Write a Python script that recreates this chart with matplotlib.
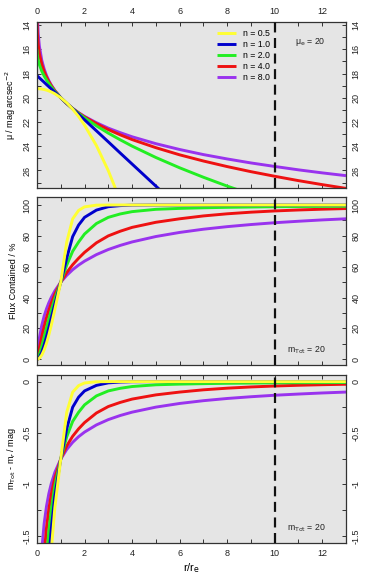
import numpy as np
import matplotlib
matplotlib.use('Agg')
import matplotlib.pyplot as plt

nan = np.nan

# radius in units of r_e
r = [0, 0.005, 0.01, 0.02, 0.05, 0.1, 0.2, 0.3, 0.4, 0.5, 0.6, 0.75, 1, 1.25, 1.5, 1.75,
     2, 2.5, 3, 3.5, 4, 5, 6, 7, 8, 9, 10, 11, 12, 13]

labels = ['n = 0.5', 'n = 1.0', 'n = 2.0', 'n = 4.0', 'n = 8.0']
colors = ['#ffff33', '#0000cc', '#22ee22', '#ee1111', '#9933ee']

# surface brightness (mag arcsec^-2)
mu_n05 = [19.25, 19.25, 19.25, 19.25, 19.25, 19.26, 19.28, 19.32, 19.37, 19.44, 19.52, 19.67, 20.00,
          20.42, 20.94, 21.55, 22.26, 23.95, 26.02, 28.47] + [nan] * 10
mu_n1 = [18.18, 18.19, 18.20, 18.21, 18.27, 18.36, 18.54, 18.72, 18.91, 19.09, 19.27, 19.54, 20.00,
         20.46, 20.91, 21.37, 21.82, 22.73, 23.64, 24.56, 25.47, 27.29, 29.11] + [nan] * 7
mu_n2 = [16.01, 16.29, 16.41, 16.58, 16.90, 17.27, 17.80, 18.20, 18.53, 18.83, 19.10, 19.47, 20.00,
         20.47, 20.90, 21.29, 21.65, 22.32, 22.92, 23.47, 23.99, 24.93, 25.78, 26.56, 27.29, 27.97] + [nan] * 4
mu_n4 = [11.67, 13.89, 14.31, 14.80, 15.61, 16.36, 17.24, 17.84, 18.30, 18.68, 19.00, 19.42, 20.00,
         20.48, 20.89, 21.25, 21.58, 22.14, 22.63, 23.06, 23.45, 24.12, 24.71, 25.22, 25.68, 26.10,
         26.48, 26.84, 27.17, 27.48]
mu_n8 = [2.99, 11.76, 12.55, 13.42, 14.69, 15.74, 16.90, 17.62, 18.16, 18.59, 18.95, 19.40, 20.00,
         20.48, 20.88, 21.23, 21.54, 22.06, 22.51, 22.88, 23.22, 23.79, 24.27, 24.69, 25.05, 25.38,
         25.67, 25.95, 26.20, 26.43]

# flux contained (%)
flux_n05 = [0, 0, 0.01, 0.03, 0.17, 0.69, 2.73, 6.05, 10.51, 15.91, 22.08, 32.29, 50.00, 76.0,
            91.0, 96.5, 98.8, 99.9, 100, 100] + [100] * 10
flux_n1 = [0, 0, 0.01, 0.06, 0.33, 1.26, 4.52, 9.12, 14.59, 20.54, 26.67, 35.84, 50.00, 65.5,
           79.5, 87.0, 92.0, 96.7, 98.9, 99.6, 99.9, 100, 100, 100] + [100] * 6
flux_n2 = [0, 0.02, 0.06, 0.20, 0.98, 3.05, 8.46, 14.51, 20.55, 26.35, 31.80, 39.30, 50.00, 61.0,
           70.0, 76.0, 81.2, 88.0, 92.0, 94.2, 95.7, 97.2, 97.8, 98.2, 98.5, 98.7,
           98.9, 99.0, 99.1, 99.2]
flux_n4 = [0, 0.12, 0.36, 0.96, 3.20, 7.19, 14.68, 21.27, 26.98, 31.99, 36.40, 42.17, 50.00, 56.22,
           61.28, 65.50, 69.30, 75.50, 80.00, 83.00, 85.50, 88.80, 91.06, 92.92, 94.30, 95.35,
           96.15, 96.78, 97.28, 97.69]
flux_n8 = [0, 0.91, 1.88, 3.64, 8.09, 13.77, 22.00, 28.00, 32.74, 36.73, 40.07, 44.34, 50.00, 54.42,
           58.05, 61.06, 63.62, 67.85, 71.16, 73.81, 76.06, 79.57, 82.22, 84.31, 85.97, 87.34,
           88.51, 89.47, 90.34, 91.07]

# m_Tot - m_r (mag)
mag_n05 = [nan] * 8 + [-2.446, -1.996, -1.640, -1.2275, -0.7526, -0.298, -0.1024, -0.0387,
                       -0.0131, -0.0011, 0, 0] + [0] * 10
mag_n1 = [nan] * 7 + [-2.60, -2.09, -1.7185, -1.435, -1.114, -0.7526, -0.4594, -0.249, -0.1512,
                      -0.0905, -0.0364, -0.012, -0.0044, -0.0011, 0, 0, 0] + [0] * 6
mag_n2 = [nan] * 6 + [-2.68, -2.096, -1.718, -1.448, -1.244, -1.014, -0.7526, -0.5367, -0.3872,
                      -0.298, -0.226, -0.1388, -0.0905, -0.0649, -0.0477, -0.0308, -0.0242,
                      -0.0197, -0.0164, -0.0142, -0.012, -0.0109, -0.0098, -0.0087]
mag_n4 = [nan] * 5 + [-2.858, -2.083, -1.6805, -1.4226, -1.2375, -1.0973, -0.9376, -0.7526,
                      -0.6252, -0.5317, -0.4594, -0.3985, -0.3052, -0.2423, -0.2023, -0.170,
                      -0.129, -0.1017, -0.0797, -0.0637, -0.0517, -0.0426, -0.0355, -0.0299, -0.0254]
mag_n8 = [nan] * 4 + [-2.730, -2.153, -1.644, -1.382, -1.212, -1.0876, -0.993, -0.883, -0.7526,
                      -0.6605, -0.5905, -0.5356, -0.4910, -0.4212, -0.3695, -0.3297, -0.2971,
                      -0.2481, -0.2125, -0.1854, -0.1640, -0.1470, -0.1325, -0.1208, -0.1103, -0.1016]

mu_all = [mu_n05, mu_n1, mu_n2, mu_n4, mu_n8]
flux_all = [flux_n05, flux_n1, flux_n2, flux_n4, flux_n8]
mag_all = [mag_n05, mag_n1, mag_n2, mag_n4, mag_n8]

plt.rcParams['font.family'] = ['Liberation Sans', 'DejaVu Sans']

fig = plt.figure(figsize=(3.66, 5.78), dpi=100)
left, width = 0.1011, 0.8443
ax1 = fig.add_axes([left, 0.6747, width, 0.2872])
ax2 = fig.add_axes([left, 0.3685, width, 0.2907])
ax3 = fig.add_axes([left, 0.0606, width, 0.2907])

def style_axis(ax, yticks, yticklabels, minor):
    ax.set_facecolor('#e5e5e5')
    for s in ax.spines.values():
        s.set_color('#333333')
        s.set_linewidth(0.9)
    ax.set_xlim(0, 13)
    ax.set_xticks(range(0, 13, 2))
    ax.set_xticks(range(0, 14), minor=True)
    ax.set_yticks(yticks)
    ax.set_yticklabels(yticklabels, rotation=90, va='center')
    ax.set_yticks(minor, minor=True)
    ax.tick_params(which='both', direction='in', length=3, width=0.7, color='#333333',
                   labelsize=6.5, labelcolor='#222222', top=True, right=True,
                   labelleft=True, labelright=True, labelbottom=False, pad=4)
    for lab in ax.get_yticklabels(which='major'):
        lab.set_rotation(90)
    ax.axvline(10, color='#111111', lw=1.6, ls=(0, (4.5, 2.5)), zorder=5)

# panel 1: surface brightness
for vals, lab, c in reversed(list(zip(mu_all, labels, colors))):
    ax1.plot(r, vals, color=c, lw=2.1, label=lab, solid_capstyle='butt')
ax1.set_ylim(27.45, 13.75)
style_axis(ax1, [14, 16, 18, 20, 22, 24, 26], ['14', '16', '18', '20', '22', '24', '26'],
           range(14, 28))
ax1.tick_params(labeltop=True)
ax1.set_ylabel('μ / mag arcsec$^{-2}$', fontsize=6.5, labelpad=3)
handles, labs = ax1.get_legend_handles_labels()
ax1.legend(handles[::-1], labs[::-1], loc='upper left', bbox_to_anchor=(0.56, 1.0),
           frameon=False, fontsize=6.3, handlelength=2.2, labelspacing=0.22, handletextpad=0.8,
           borderaxespad=0.4)
ax1.text(0.935, 0.88, 'μ$_\\mathrm{e}$ = 20', transform=ax1.transAxes, fontsize=6.3,
         ha='right', va='center', color='#222222')

# panel 2: flux contained
for vals, lab, c in reversed(list(zip(flux_all, labels, colors))):
    ax2.plot(r, vals, color=c, lw=2.1)
ax2.set_ylim(-3.7, 105.2)
style_axis(ax2, [0, 20, 40, 60, 80, 100], ['0', '20', '40', '60', '80', '100'],
           range(0, 101, 10))
ax2.set_ylabel('Flux Contained / %', fontsize=6.5, labelpad=3)
ax2.text(0.935, 0.09, r'm$_{\mathrm{Tot}}$ = 20', transform=ax2.transAxes, fontsize=6.3,
         ha='right', va='center', color='#222222')

# panel 3: magnitude difference
for vals, lab, c in reversed(list(zip(mag_all, labels, colors))):
    ax3.plot(r, vals, color=c, lw=2.1)
ax3.set_ylim(-1.57, 0.065)
style_axis(ax3, [0, -0.5, -1, -1.5], ['0', '-0.5', '-1', '-1.5'],
           np.arange(-1.5, 0.01, 0.25))
ax3.tick_params(labelbottom=True)
ax3.set_ylabel(r'm$_{\mathrm{Tot}}$ - m$_{r}$ / mag', fontsize=6.5, labelpad=3)
ax3.set_xlabel(r'r/r$_{\mathrm{e}}$', fontsize=8, labelpad=3)
ax3.text(0.935, 0.09, r'm$_{\mathrm{Tot}}$ = 20', transform=ax3.transAxes, fontsize=6.3,
         ha='right', va='center', color='#222222')

fig.savefig('out.png', dpi=100)
